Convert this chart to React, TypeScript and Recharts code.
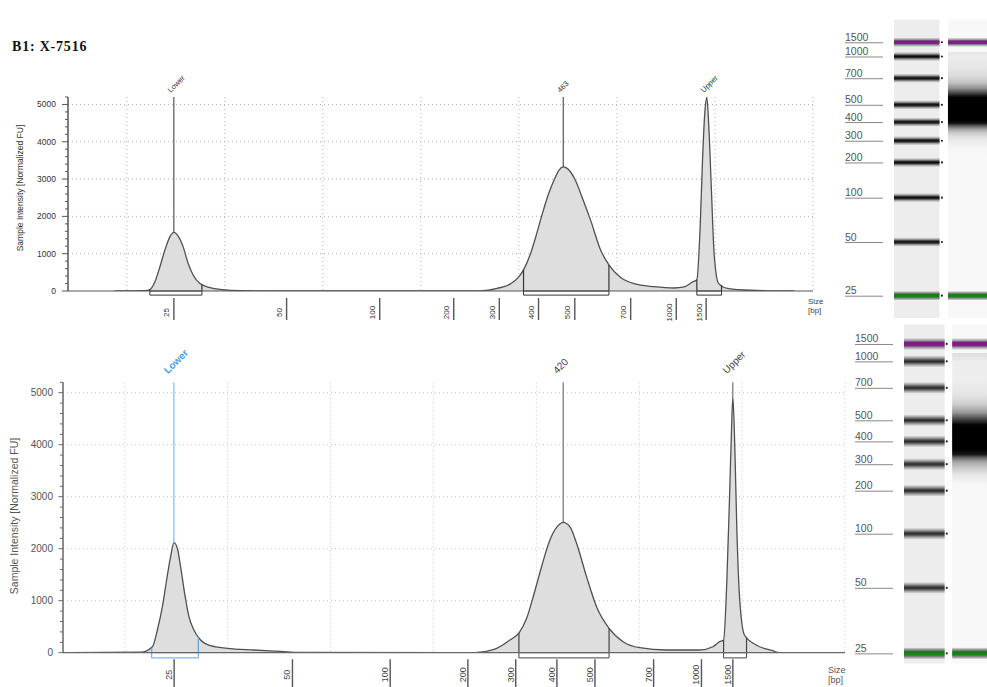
import React from 'react';
import {
  ComposedChart,
  Area,
  XAxis,
  YAxis,
  CartesianGrid,
  ReferenceLine,
  ReferenceArea,
  ReferenceDot,
  ScatterChart,
  Scatter,
} from 'recharts';

// ladder: fragment size (bp) and the migration time (s) where it runs
const ladderSizes = [25, 50, 100, 200, 300, 400, 500, 700, 1000, 1500];
const ladderTimes = [24.8, 36.3, 45.8, 53.35, 58.0, 62.0, 65.7, 71.4, 76.05, 79.1];

const timeGridLines = [20, 30, 40, 50, 60, 70, 80, 90];
const intensityGridLines = [1000, 2000, 3000, 4000, 5000];
const intensityTicks = Array.from({ length: 27 }, (_, i) => i * 200);

// B1: X-7516 (upper trace)
const topTimes = [
  18.77, 21.84, 22.35, 22.86, 23.37, 23.88, 24.39, 24.8, 25.24, 25.75, 26.26, 26.78, 27.46, 28.48, 29.81,
  31.55, 35.63, 47.9, 56.07, 57.78, 59.14, 59.96, 60.5, 61.18, 61.75, 62.31, 63.02, 63.63, 64.09, 64.52,
  64.96, 65.7, 66.49, 67.31, 68.33, 69.18, 70.38, 71.74, 73.78, 75.83, 76.85, 77.71, 78.15, 78.49, 78.73,
  78.96, 79.17, 79.37, 79.65, 79.91, 80.36, 81.28, 83.66, 88.06,
];
const topIntensity = [
  0, 10, 40, 240, 645, 1094, 1452, 1570, 1470, 1183, 737, 422, 199, 91, 38,
  10, 0, 0, 5, 70, 190, 370, 580, 1000, 1480, 2000, 2600, 3000, 3240, 3325,
  3280, 3000, 2480, 1900, 1100, 700, 360, 195, 115, 80, 110, 240, 300, 1730, 3520,
  4770, 5180, 4415, 2620, 1013, 206, 72, 20, 0,
];
const topPeakTimes = [24.8, 64.52, 79.17];
const topPeakHeights = [1570, 3325, 5180];
const topPeakLabels = ['Lower', '463', 'Upper'];
const topFragStarts = [22.35, 60.47, 78.15];
const topFragEnds = [27.66, 69.18, 80.67];
const topFragStartHeights = [40, 570, 300];
const topFragEndHeights = [175, 700, 160];

// second run (lower trace)
const bottomTimes = [
  14.5, 21.55, 22.69, 23.17, 23.66, 24.07, 24.46, 24.78, 25.11, 25.43, 25.82, 26.24, 26.72, 27.37, 28.34,
  29.96, 32.54, 35.13, 37.07, 53.56, 54.53, 56.15, 57.44, 58.34, 59.06, 59.7, 60.51, 61.32, 62.03, 62.61,
  63.26, 63.91, 64.88, 65.85, 67.07, 68.43, 70.05, 72.64, 75.87, 77.16, 77.81, 78.2, 78.52, 78.78, 78.97,
  79.1, 79.29, 79.49, 79.75, 80.23, 81.37, 82.98, 83.63, 89.45,
];
const bottomIntensity = [
  0, 10, 115, 437, 885, 1398, 1846, 2115, 2008, 1654, 1142, 692, 437, 244, 135,
  85, 52, 25, 5, 0, 10, 84, 244, 385, 661, 1077, 1654, 2167, 2423, 2507,
  2423, 2104, 1462, 885, 469, 212, 96, 52, 52, 115, 212, 244, 1398, 3000, 4283,
  4923, 3962, 2360, 1077, 340, 148, 38, 0, 0,
];
const bottomPeakTimes = [24.78, 62.61, 79.1];
const bottomPeakHeights = [2115, 2507, 4923];
const bottomPeakLabels = ['Lower', '420', 'Upper'];
const bottomFragStarts = [22.62, 58.31, 78.2];
const bottomFragEnds = [27.15, 67.07, 80.43];
const bottomFragStartHeights = [90, 385, 244];
const bottomFragEndHeights = [300, 469, 300];

const SANS = '"Liberation Sans", Arial, sans-serif';

const topStyle = {
  width: 840, height: 330, top: 0,
  margin: { top: 97, right: 27, bottom: 4, left: 8 },
  xAxisHeight: 35,
  axis: '#555', axisWidth: 1.5,
  yFont: 8.5, yColor: '#333', yGap: 12, majorTick: 6, minorTick: 3,
  xFont: 8, xColor: '#333', xTickTop: 7, xTickBottom: 29, xTextMid: 21.5, xTextOff: 4.5,
  peakFont: 7.5, peakDx: -3, peakDy: -4, boldLower: false,
  peakColors: ['#333', '#333', '#333'],
  peakLabelColors: ['#333', '#333', '#333'],
  fragColors: ['#333', '#333', '#333'],
  bracketDepth: 110,
  grid: '#b0b0b0',
};

const bottomStyle = {
  width: 860, height: 357, top: 330,
  margin: { top: 52.3, right: 15, bottom: 4.3, left: 3 },
  xAxisHeight: 30,
  axis: '#666', axisWidth: 1.5,
  yFont: 10, yColor: '#555', yGap: 10, majorTick: 4.5, minorTick: 3,
  xFont: 9, xColor: '#444', xTickTop: 6.5, xTickBottom: 40, xTextMid: 22, xTextOff: 2,
  peakFont: 10, peakDx: -6, peakDy: -8, boldLower: true,
  peakColors: ['#6aaee8', '#555', '#555'],
  peakLabelColors: ['#4a9de0', '#444', '#444'],
  fragColors: ['#5aa7e6', '#444', '#444'],
  bracketDepth: 100,
  grid: '#c4c4c4',
};

function Electropherogram(props: any) {
  const { s, times, intensity, peakTimes, peakHeights, peakLabels, fragStarts, fragEnds, fragStartHeights, fragEndHeights } = props;
  const data = times.map((t: number, i: number) => ({ t, v: intensity[i] }));

  const yTick = (p: any) => {
    const v = p.payload.value;
    const major = v % 1000 === 0;
    return (
      <g>
        <line x1={p.x - (major ? s.majorTick : s.minorTick)} x2={p.x} y1={p.y} y2={p.y} stroke={s.axis} strokeWidth={1} />
        {major && (
          <text x={p.x - s.yGap} y={p.y} dy="0.35em" textAnchor="end" fontSize={s.yFont} fill={s.yColor}>
            {v}
          </text>
        )}
      </g>
    );
  };

  const xTick = (p: any) => {
    const i = ladderTimes.indexOf(p.payload.value);
    return (
      <g>
        <line x1={p.x} x2={p.x} y1={p.y + s.xTickTop} y2={p.y + s.xTickBottom} stroke="#555" strokeWidth={1.4} />
        <text
          transform={`translate(${p.x - s.xTextOff},${p.y + s.xTextMid}) rotate(-90)`}
          textAnchor="middle"
          fontSize={s.xFont}
          fill={s.xColor}
        >
          {ladderSizes[i]}
        </text>
      </g>
    );
  };

  return (
    <div style={{ position: 'absolute', left: 0, top: s.top }}>
      <ComposedChart width={s.width} height={s.height} data={data} margin={s.margin}>
        <CartesianGrid
          stroke={s.grid}
          strokeDasharray="1 3"
          horizontalValues={intensityGridLines}
          verticalValues={timeGridLines}
        />
        <XAxis
          type="number"
          dataKey="t"
          domain={[14, 90]}
          allowDataOverflow
          ticks={ladderTimes}
          interval={0}
          tickLine={false}
          tickSize={0}
          tickMargin={0}
          height={s.xAxisHeight}
          axisLine={{ stroke: s.axis, strokeWidth: 1.2 }}
          tick={xTick}
        />
        <YAxis
          type="number"
          dataKey="v"
          domain={[0, 5200]}
          allowDataOverflow
          ticks={intensityTicks}
          interval={0}
          tickLine={false}
          tickSize={0}
          tickMargin={0}
          width={60}
          axisLine={{ stroke: s.axis, strokeWidth: s.axisWidth }}
          tick={yTick}
        />
        <Area
          type="monotone"
          dataKey="v"
          stroke="#505050"
          strokeWidth={1.3}
          fill="#dedede"
          fillOpacity={1}
          dot={false}
          activeDot={false}
          isAnimationActive={false}
        />
        {fragStarts.map((f: number, i: number) => (
          <ReferenceArea
            key={`fa${i}`}
            x1={f}
            x2={fragEnds[i]}
            y1={-s.bracketDepth}
            y2={0}
            ifOverflow="visible"
            fill="none"
            fillOpacity={0}
            stroke={s.fragColors[i]}
            strokeWidth={1}
          />
        ))}
        {fragStarts.map((f: number, i: number) => (
          <ReferenceLine
            key={`fs${i}`}
            segment={[{ x: f, y: 0 }, { x: f, y: fragStartHeights[i] }]}
            stroke={s.fragColors[i]}
            strokeWidth={1.2}
          />
        ))}
        {fragEnds.map((f: number, i: number) => (
          <ReferenceLine
            key={`fe${i}`}
            segment={[{ x: f, y: 0 }, { x: f, y: fragEndHeights[i] }]}
            stroke={s.fragColors[i]}
            strokeWidth={1.2}
          />
        ))}
        {peakTimes.map((t: number, i: number) => (
          <ReferenceLine
            key={`pl${i}`}
            segment={[{ x: t, y: peakHeights[i] }, { x: t, y: 5200 }]}
            stroke={s.peakColors[i]}
            strokeWidth={1}
          />
        ))}
        {peakTimes.map((t: number, i: number) => (
          <ReferenceDot
            key={`pd${i}`}
            x={t}
            y={5200}
            r={0}
            shape={(p: any) => (
              <text
                transform={`translate(${p.cx + s.peakDx},${p.cy + s.peakDy}) rotate(-45)`}
                fontSize={s.peakFont}
                fill={s.peakLabelColors[i]}
                fontWeight={i === 0 && s.boldLower ? 600 : 400}
              >
                {peakLabels[i]}
              </text>
            )}
          />
        ))}
      </ComposedChart>
    </div>
  );
}

const ladderDots = ladderTimes.map((t) => ({ lane: 1.03, t }));

function Gel(props: any) {
  const { left, top, width, height, margin, domain, smearId, smearFrom, smearTo, band, bandHalf } = props;
  const ladderTick = (p: any) => {
    const i = ladderTimes.indexOf(p.payload.value);
    return (
      <g>
        <line x1={p.x - 49} x2={p.x - 11} y1={p.y + 0.5} y2={p.y + 0.5} stroke="#888" strokeWidth={1} />
        <text x={p.x - 49} y={p.y - 1.5} fontSize={10.5} fill="#555">
          {ladderSizes[i]}
        </text>
      </g>
    );
  };
  const bandFill = (i: number) => {
    if (i === 0) return 'url(#bandGreen)';
    if (i === ladderTimes.length - 1) return 'url(#bandPurple)';
    return `url(#${band})`;
  };
  const last = ladderTimes.length - 1;
  return (
    <div style={{ position: 'absolute', left, top }}>
      <ScatterChart width={width} height={height} margin={margin}>
        <XAxis type="number" dataKey="lane" domain={[0, 2]} hide />
        <YAxis
          type="number"
          dataKey="t"
          domain={domain}
          allowDataOverflow
          width={59}
          ticks={ladderTimes}
          interval={0}
          axisLine={false}
          tickLine={false}
          tickSize={0}
          tickMargin={0}
          tick={ladderTick}
        />
        <ReferenceArea x1={0} x2={0.98} y1={domain[0]} y2={domain[1]} fill="#ededed" fillOpacity={1} />
        <ReferenceArea x1={1.16} x2={2} y1={domain[0]} y2={domain[1]} fill="#f8f8f8" fillOpacity={1} />
        <ReferenceArea x1={1.16} x2={2} y1={smearFrom} y2={smearTo} fill={`url(#${smearId})`} fillOpacity={1} />
        {ladderTimes.map((t, i) => (
          <ReferenceArea
            key={`b${i}`}
            x1={0}
            x2={0.98}
            y1={t - bandHalf}
            y2={t + bandHalf}
            fill={bandFill(i)}
            fillOpacity={1}
          />
        ))}
        <ReferenceArea
          x1={1.16}
          x2={2}
          y1={ladderTimes[0] - bandHalf}
          y2={ladderTimes[0] + bandHalf}
          fill="url(#bandGreen)"
          fillOpacity={1}
        />
        <ReferenceArea
          x1={1.16}
          x2={2}
          y1={ladderTimes[last] - bandHalf}
          y2={ladderTimes[last] + bandHalf}
          fill="url(#bandPurple)"
          fillOpacity={1}
        />
        <Scatter
          data={ladderDots}
          isAnimationActive={false}
          shape={(p: any) => <circle cx={p.cx} cy={p.cy} r={1.1} fill="#222" />}
        />
      </ScatterChart>
    </div>
  );
}

function smearGradient(id: string, times: number[], intensity: number[], from: number, to: number, sat: number) {
  const pts = times
    .map((t, i) => ({ t, v: intensity[i] }))
    .filter((p) => p.t >= from && p.t <= to)
    .sort((a, b) => b.t - a.t);
  return (
    <linearGradient id={id} x1="0" y1="0" x2="0" y2="1">
      {pts.map((p, i) => (
        <stop key={i} offset={(to - p.t) / (to - from)} stopColor="#000" stopOpacity={Math.min(1, p.v / sat)} />
      ))}
    </linearGradient>
  );
}

function GelDefs() {
  return (
    <svg width={0} height={0} style={{ position: 'absolute' }}>
      <defs>
        <linearGradient id="bandDark" x1="0" y1="0" x2="0" y2="1">
          <stop offset="0" stopColor="#000" stopOpacity={0} />
          <stop offset="0.2" stopColor="#000" stopOpacity={0.3} />
          <stop offset="0.38" stopColor="#000" stopOpacity={0.8} />
          <stop offset="0.5" stopColor="#000" stopOpacity={0.95} />
          <stop offset="0.62" stopColor="#000" stopOpacity={0.8} />
          <stop offset="0.8" stopColor="#000" stopOpacity={0.3} />
          <stop offset="1" stopColor="#000" stopOpacity={0} />
        </linearGradient>
        <linearGradient id="bandSoft" x1="0" y1="0" x2="0" y2="1">
          <stop offset="0" stopColor="#000" stopOpacity={0} />
          <stop offset="0.2" stopColor="#000" stopOpacity={0.3} />
          <stop offset="0.4" stopColor="#000" stopOpacity={0.7} />
          <stop offset="0.5" stopColor="#000" stopOpacity={0.82} />
          <stop offset="0.6" stopColor="#000" stopOpacity={0.7} />
          <stop offset="0.8" stopColor="#000" stopOpacity={0.3} />
          <stop offset="1" stopColor="#000" stopOpacity={0} />
        </linearGradient>
        <linearGradient id="bandPurple" x1="0" y1="0" x2="0" y2="1">
          <stop offset="0" stopColor="#000" stopOpacity={0} />
          <stop offset="0.22" stopColor="#333" stopOpacity={0.45} />
          <stop offset="0.36" stopColor="#7e1a80" stopOpacity={1} />
          <stop offset="0.64" stopColor="#8a1c8c" stopOpacity={1} />
          <stop offset="0.78" stopColor="#333" stopOpacity={0.45} />
          <stop offset="1" stopColor="#000" stopOpacity={0} />
        </linearGradient>
        <linearGradient id="bandGreen" x1="0" y1="0" x2="0" y2="1">
          <stop offset="0" stopColor="#000" stopOpacity={0} />
          <stop offset="0.22" stopColor="#333" stopOpacity={0.55} />
          <stop offset="0.38" stopColor="#127c12" stopOpacity={1} />
          <stop offset="0.62" stopColor="#128a12" stopOpacity={1} />
          <stop offset="0.78" stopColor="#333" stopOpacity={0.55} />
          <stop offset="1" stopColor="#000" stopOpacity={0} />
        </linearGradient>
        {smearGradient('smearTop', topTimes, topIntensity, 55, 77, 1600)}
        {smearGradient('smearBottom', bottomTimes, bottomIntensity, 53, 77.5, 1200)}
      </defs>
    </svg>
  );
}

const rotated = (cx: number, cy: number, extra: any) => ({
  position: 'absolute' as const,
  left: cx,
  top: cy,
  transform: 'translate(-50%,-50%) rotate(-90deg)',
  whiteSpace: 'nowrap' as const,
  lineHeight: 1,
  ...extra,
});

export default function App() {
  return (
    <div
      style={{
        position: 'absolute',
        left: 0,
        top: 0,
        width: 987,
        height: 687,
        background: '#fff',
        overflow: 'hidden',
        fontFamily: SANS,
      }}
    >
      <GelDefs />
      <div
        style={{
          position: 'absolute',
          left: 12,
          top: 40,
          fontFamily: '"Liberation Serif", "Times New Roman", serif',
          fontWeight: 700,
          fontSize: 14,
          lineHeight: '14px',
          letterSpacing: 0.8,
          color: '#111',
        }}
      >
        B1: X-7516
      </div>

      <Electropherogram
        s={topStyle}
        times={topTimes}
        intensity={topIntensity}
        peakTimes={topPeakTimes}
        peakHeights={topPeakHeights}
        peakLabels={topPeakLabels}
        fragStarts={topFragStarts}
        fragEnds={topFragEnds}
        fragStartHeights={topFragStartHeights}
        fragEndHeights={topFragEndHeights}
      />
      <Electropherogram
        s={bottomStyle}
        times={bottomTimes}
        intensity={bottomIntensity}
        peakTimes={bottomPeakTimes}
        peakHeights={bottomPeakHeights}
        peakLabels={bottomPeakLabels}
        fragStarts={bottomFragStarts}
        fragEnds={bottomFragEnds}
        fragStartHeights={bottomFragStartHeights}
        fragEndHeights={bottomFragEndHeights}
      />

      <div style={rotated(20, 187.5, { fontFamily: '"Liberation Sans Narrow", "Arial Narrow", sans-serif', fontSize: 8.5, color: '#333' })}>
        Sample Intensity [Normalized FU]
      </div>
      <div style={rotated(14, 516, { fontSize: 10.5, color: '#555' })}>Sample Intensity [Normalized FU]</div>

      <div style={{ position: 'absolute', left: 808, top: 297, fontSize: 8, lineHeight: '9px', color: '#444' }}>
        Size
        <br />
        [bp]
      </div>
      <div style={{ position: 'absolute', left: 828, top: 665, fontSize: 9, lineHeight: '10px', color: '#555' }}>
        Size
        <br />
        [bp]
      </div>

      <Gel
        left={835}
        top={0}
        width={152}
        height={320}
        margin={{ top: 19.4, right: 0, bottom: 1.9, left: 0 }}
        domain={[20, 84]}
        smearId="smearTop"
        smearFrom={55}
        smearTo={77}
        band="bandDark"
        bandHalf={1}
      />
      <Gel
        left={845}
        top={320}
        width={142}
        height={367}
        margin={{ top: 4.6, right: 0, bottom: 23.4, left: 0 }}
        domain={[23, 82.5]}
        smearId="smearBottom"
        smearFrom={53}
        smearTo={77.5}
        band="bandSoft"
        bandHalf={1.05}
      />
    </div>
  );
}
